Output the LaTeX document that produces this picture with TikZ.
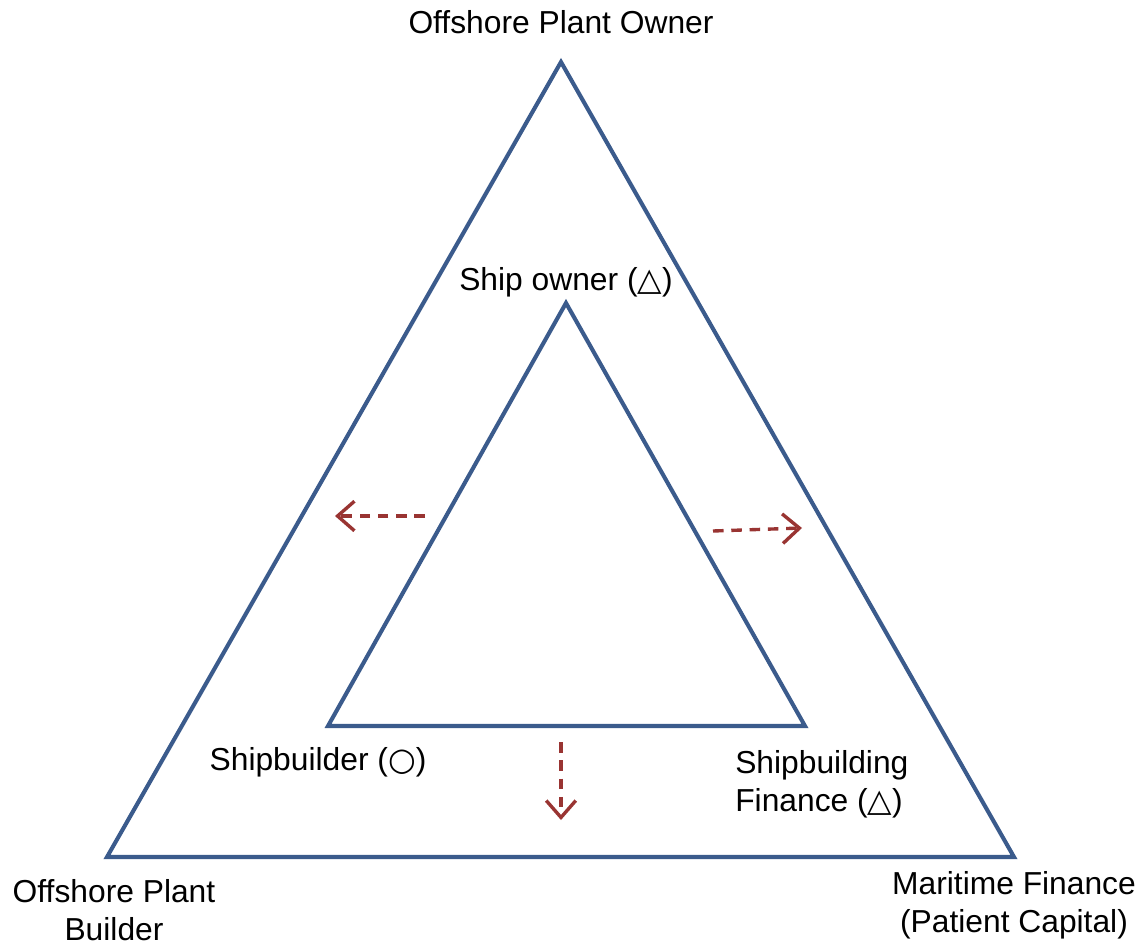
\documentclass[tikz,border=0pt]{standalone}
\usepackage{fontspec}
\setmainfont{Liberation Sans}
\newfontfamily\symfont{DejaVu Sans}
\usetikzlibrary{positioning}
\usetikzlibrary{arrows.meta}

\definecolor{triblue}{RGB}{59,91,140}
\definecolor{arrred}{RGB}{153,52,50}

\tikzset{
  tri/.style={draw=triblue, line width=2.9pt, line join=miter},
  shift arrow/.style={draw=arrred, line width=2.4pt, dash pattern=on 7.5pt off 5.5pt,
    -{Straight Barb[length=12pt,width=21pt,line width=2.4pt]}},
  lbl/.style={font=\fontsize{22.6}{27}\selectfont, align=center, inner sep=0pt}
}

\begin{document}
\begin{tikzpicture}[x=0.025cm, y=-0.025cm]
\useasboundingbox (0,0) rectangle (1140,946);

% outer triangle
\coordinate (OT) at (561,62);
\coordinate (OL) at (107,857);
\coordinate (OR) at (1014,857);
\draw [tri] (OT) -- (OL) -- (OR) -- cycle;

% inner triangle
\coordinate (IT) at (566,303);
\coordinate (IL) at (328,726);
\coordinate (IR) at (805,726);
\draw [tri] (IT) -- (IL) -- (IR) -- cycle;

% labels
\node [lbl] (owner) at (561,22) {Offshore Plant Owner};
\node [lbl] (builder) at (114,910) {Offshore Plant\\Builder};
\node [lbl] (mfin) at (1014,905) {Maritime Finance\\(Patient Capital)};

\node [lbl] (shipowner) at (566,282) {Ship owner ({\symfont △})};
\node [lbl] (shipbuilder) at (318,762) {Shipbuilder ({\symfont ○})};
\node [lbl, align=left, anchor=west] (sbfin) at (735,784) {Shipbuilding\\Finance ({\symfont △})};

% expansion arrows
\coordinate (la) at (425,516);
\coordinate (lb) at (335,516);
\coordinate (ra) at (713,531);
\coordinate (rb) at (802,528);
\coordinate (da) at (561,742);
\coordinate (db) at (561,820);
\draw [shift arrow] (la) -- (lb);
\draw [shift arrow] (ra) -- (rb);
\draw [shift arrow] (da) -- (db);
\end{tikzpicture}
\end{document}
